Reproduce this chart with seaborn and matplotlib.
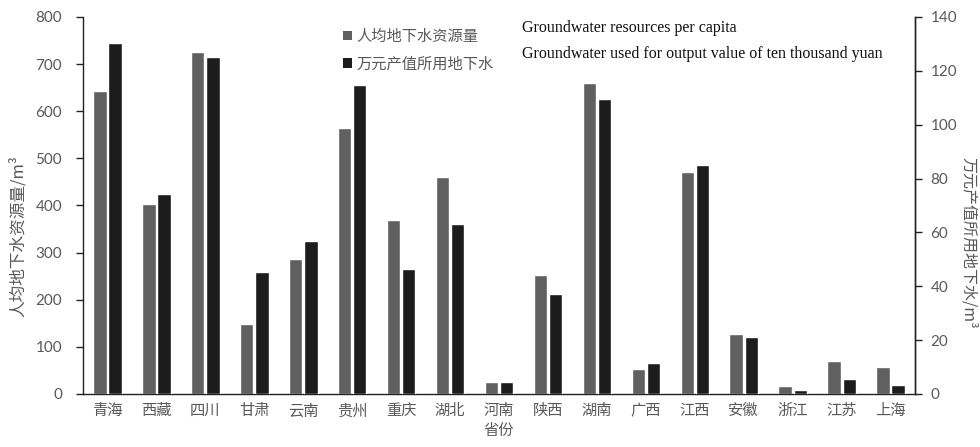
import pandas as pd
import matplotlib
matplotlib.use("Agg")
import matplotlib.pyplot as plt
import seaborn as sns
from matplotlib.patches import Patch

provinces = ["青海", "西藏", "四川", "甘肃", "云南", "贵州", "重庆", "湖北", "河南",
             "陕西", "湖南", "广西", "江西", "安徽", "浙江", "江苏", "上海"]
per_capita = [643, 404, 726, 148, 287, 565, 370, 460, 25, 253, 660, 52, 470, 128, 17, 70, 57]
per_output = [130.4, 74.4, 125.0, 45.2, 56.9, 114.6, 46.4, 63.0, 4.4, 37.3, 109.4,
              11.4, 85.2, 21.0, 1.4, 5.6, 3.5]
series = ["人均地下水资源量", "万元产值所用地下水"]
series_en = ["Groundwater resources per capita",
             "Groundwater used for output value of ten thousand yuan"]

sns.set_style("white")
plt.rcParams["font.family"] = ["Noto Sans CJK SC", "DejaVu Sans"]

df1 = pd.DataFrame({"省份": provinces, "value": per_capita, "series": series[0]})
df2 = pd.DataFrame({"省份": provinces, "value": per_output, "series": series[1]})

fig = plt.figure(figsize=(9.8, 4.47), dpi=100)
ax = fig.add_axes([0.0847, 0.1186, 0.8490, 0.8434])
ax2 = ax.twinx()

palette = {series[0]: "#606060", series[1]: "#1c1c1c"}
common = dict(x="省份", y="value", hue="series", hue_order=series, order=provinces,
              palette=palette, width=0.62, gap=0.12, saturation=1, legend=False,
              dodge=True)
sns.barplot(data=df1, ax=ax, **common)
sns.barplot(data=df2, ax=ax2, **common)

ax.set_ylim(0, 800)
ax2.set_ylim(0, 140)
ax.set_xlim(-0.5, len(provinces) - 0.5)
ax.set_yticks(range(0, 801, 100))
ax2.set_yticks(range(0, 141, 20))

num_font = ["Lato", "DejaVu Sans"]
tick_col = "#595959"
for a, pad in ((ax, 10), (ax2, 6)):
    for lab in a.get_yticklabels():
        lab.set_family(num_font)
        lab.set_fontsize(11)
        lab.set_color(tick_col)
    a.tick_params(axis="y", direction="out", length=5, width=1, color="#222222", pad=pad)
    for s in a.spines.values():
        s.set_color("#222222")
        s.set_linewidth(1)
    a.spines["top"].set_visible(False)

ax.tick_params(axis="x", length=0, pad=6, labelsize=11, labelcolor=tick_col)
ax.set_xlabel("省份", fontsize=11, color=tick_col, labelpad=2)
ax.set_ylabel("人均地下水资源量/m³", fontsize=12, color=tick_col,
              va="center", ha="center")
ax.yaxis.set_label_coords(-0.078, 0.42)
ax2.set_ylabel("万元产值所用地下水/m³", fontsize=11.5, color=tick_col, rotation=-90,
               va="center", ha="center")
ax2.yaxis.set_label_coords(1.064, 0.40)
ax2.spines["left"].set_visible(False)
ax2.spines["bottom"].set_visible(False)

handles = [Patch(facecolor=palette[s], edgecolor="none") for s in series]
leg = ax.legend(handles, series, loc="upper left", bbox_to_anchor=(0.30, 1.0),
                frameon=False, fontsize=11, handlelength=0.55, handleheight=0.55,
                handletextpad=0.3, labelspacing=0.7, borderaxespad=0.3)
for t in leg.get_texts():
    t.set_color(tick_col)

for i, en in enumerate(series_en):
    fig.text(522 / 980, 1 - (28 + i * 26) / 447, en, fontsize=11.5,
             family=["Liberation Serif", "DejaVu Serif"], color="#111111", va="center")

fig.savefig("out.png", dpi=100)
